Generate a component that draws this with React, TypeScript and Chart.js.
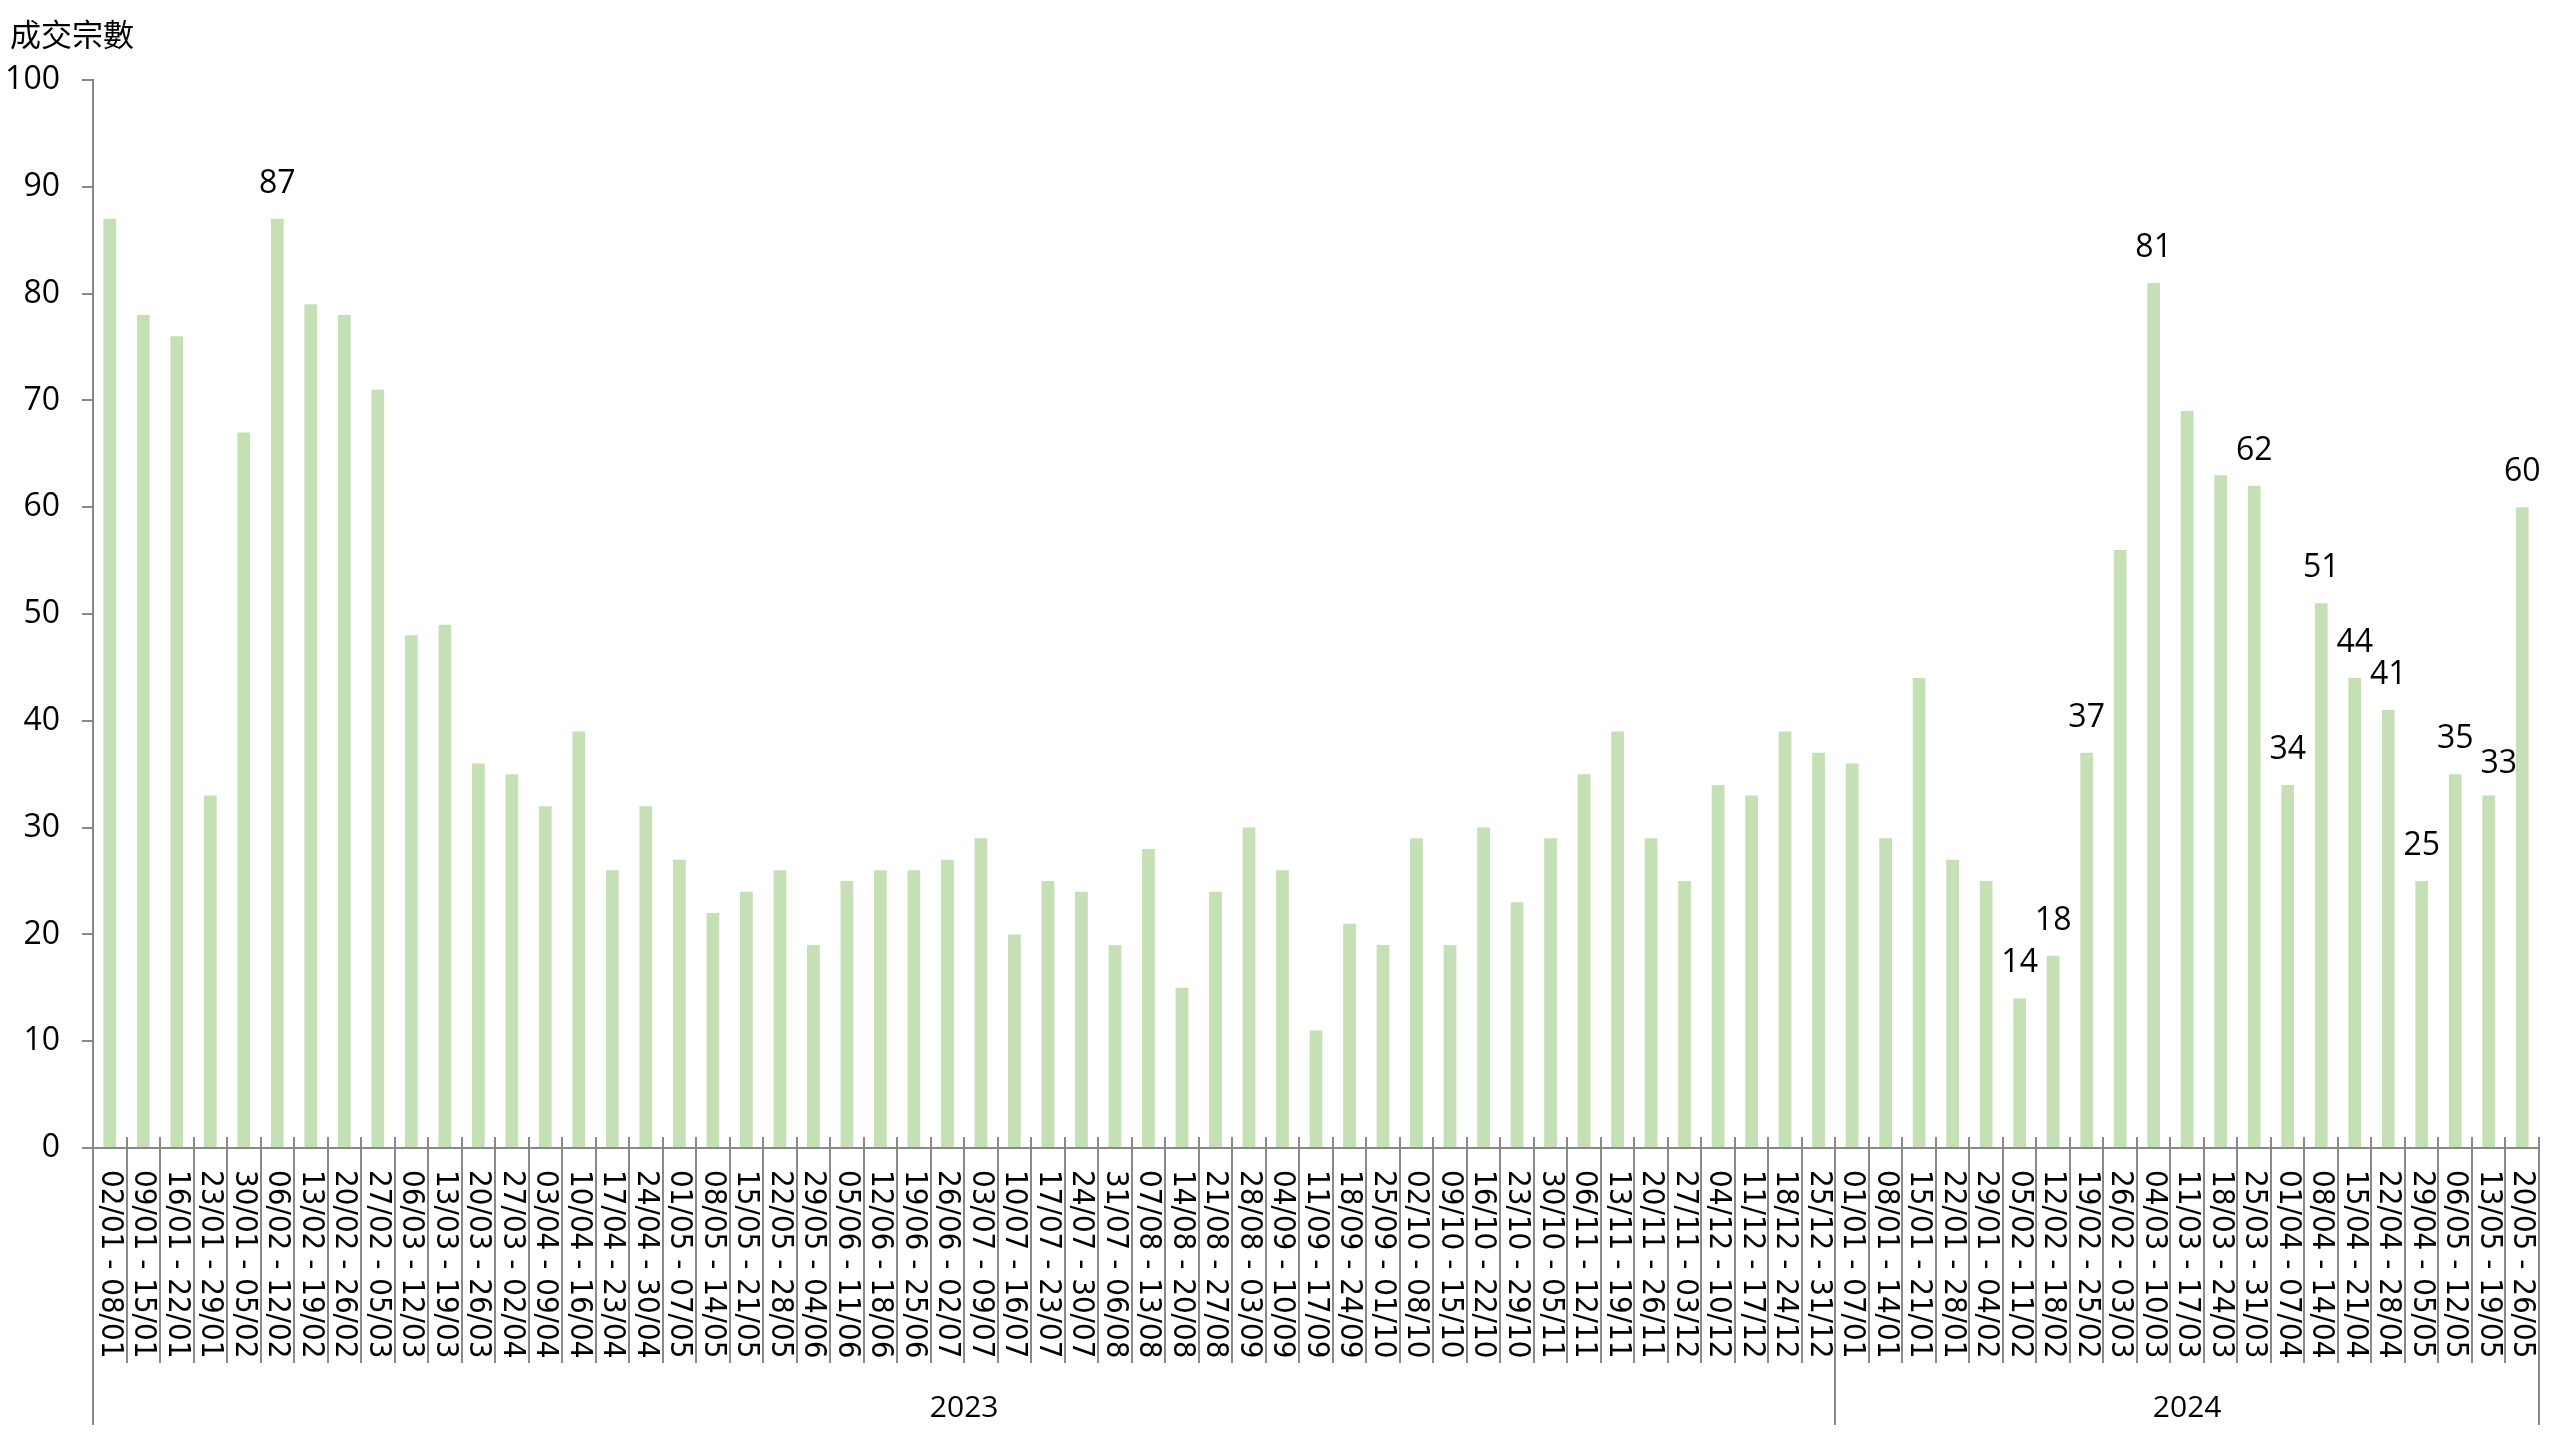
import React, { useEffect, useRef } from "react";
import { Chart, registerables } from "chart.js";

Chart.register(...registerables);

const yAxisTitle = "成交宗數";

const years = ["2023", "2024"];

const weeks2023 = [
  "02/01 - 08/01", "09/01 - 15/01", "16/01 - 22/01", "23/01 - 29/01", "30/01 - 05/02",
  "06/02 - 12/02", "13/02 - 19/02", "20/02 - 26/02", "27/02 - 05/03", "06/03 - 12/03",
  "13/03 - 19/03", "20/03 - 26/03", "27/03 - 02/04", "03/04 - 09/04", "10/04 - 16/04",
  "17/04 - 23/04", "24/04 - 30/04", "01/05 - 07/05", "08/05 - 14/05", "15/05 - 21/05",
  "22/05 - 28/05", "29/05 - 04/06", "05/06 - 11/06", "12/06 - 18/06", "19/06 - 25/06",
  "26/06 - 02/07", "03/07 - 09/07", "10/07 - 16/07", "17/07 - 23/07", "24/07 - 30/07",
  "31/07 - 06/08", "07/08 - 13/08", "14/08 - 20/08", "21/08 - 27/08", "28/08 - 03/09",
  "04/09 - 10/09", "11/09 - 17/09", "18/09 - 24/09", "25/09 - 01/10", "02/10 - 08/10",
  "09/10 - 15/10", "16/10 - 22/10", "23/10 - 29/10", "30/10 - 05/11", "06/11 - 12/11",
  "13/11 - 19/11", "20/11 - 26/11", "27/11 - 03/12", "04/12 - 10/12", "11/12 - 17/12",
  "18/12 - 24/12", "25/12 - 31/12",
];

const values2023 = [
  87, 78, 76, 33, 67, 87, 79, 78, 71, 48,
  49, 36, 35, 32, 39, 26, 32, 27, 22, 24,
  26, 19, 25, 26, 26, 27, 29, 20, 25, 24,
  19, 28, 15, 24, 30, 26, 11, 21, 19, 29,
  19, 30, 23, 29, 35, 39, 29, 25, 34, 33,
  39, 37,
];

const weeks2024 = [
  "01/01 - 07/01", "08/01 - 14/01", "15/01 - 21/01", "22/01 - 28/01", "29/01 - 04/02",
  "05/02 - 11/02", "12/02 - 18/02", "19/02 - 25/02", "26/02 - 03/03", "04/03 - 10/03",
  "11/03 - 17/03", "18/03 - 24/03", "25/03 - 31/03", "01/04 - 07/04", "08/04 - 14/04",
  "15/04 - 21/04", "22/04 - 28/04", "29/04 - 05/05", "06/05 - 12/05", "13/05 - 19/05",
  "20/05 - 26/05",
];

const values2024 = [
  36, 29, 44, 27, 25, 14, 18, 37, 56, 81,
  69, 63, 62, 34, 51, 44, 41, 25, 35, 33,
  60,
];

// weeks whose value is written above the bar
const labelledWeeks2023 = ["06/02 - 12/02"];
const labelledWeeks2024 = [
  "05/02 - 11/02", "12/02 - 18/02", "19/02 - 25/02", "04/03 - 10/03", "25/03 - 31/03",
  "01/04 - 07/04", "08/04 - 14/04", "15/04 - 21/04", "22/04 - 28/04", "29/04 - 05/05",
  "06/05 - 12/05", "13/05 - 19/05", "20/05 - 26/05",
];

const yTicksMin = 0;
const yTicksMax = 100;
const yTicksStep = 10;

const BAR_COLOR = "#C5E0B4";
const AXIS_COLOR = "#898989";
const NUM_FONT = '"Open Sans", "Noto Sans", sans-serif';
const CAT_FONT = '"DejaVu Sans Condensed", "DejaVu Sans", sans-serif';
const CJK_FONT = '"Noto Sans CJK TC", "Noto Sans CJK SC", sans-serif';

// hand-moved data label (as in the original, to avoid overlap)
const LABEL_NUDGE: Record<string, { dx: number; dy: number }> = {
  "13/05 - 19/05": { dx: 10, dy: 3 },
};

const allWeeks = [...weeks2023, ...weeks2024];
const allValues = [...values2023, ...values2024];
const yearGroups = [
  { name: years[0], count: weeks2023.length },
  { name: years[1], count: weeks2024.length },
];
const labelledSet = new Set([...labelledWeeks2023, ...labelledWeeks2024]);

const decorPlugin = {
  id: "decor",
  afterDraw(chart: any) {
    const { ctx, chartArea, scales } = chart;
    const xs = scales.x;
    const n = allWeeks.length;
    const step = xs.getPixelForValue(1) - xs.getPixelForValue(0);
    const base = chartArea.bottom;
    const boundary = (i: number) =>
      i < n ? xs.getPixelForValue(i) - step / 2 : xs.getPixelForValue(n - 1) + step / 2;

    const groupBounds: number[] = [0];
    let acc = 0;
    yearGroups.forEach((g) => {
      acc += g.count;
      groupBounds.push(acc);
    });

    ctx.save();
    // title
    ctx.fillStyle = "#000";
    ctx.font = `31px ${CJK_FONT}`;
    ctx.textAlign = "left";
    ctx.textBaseline = "middle";
    ctx.fillText(yAxisTitle, 10, 34);

    // category boundary lines
    ctx.strokeStyle = AXIS_COLOR;
    ctx.lineWidth = 2;
    for (let i = 0; i <= n; i++) {
      const bx = Math.round(boundary(i));
      const isGroup = groupBounds.includes(i);
      ctx.beginPath();
      ctx.moveTo(bx, base - 11);
      ctx.lineTo(bx, isGroup ? base + 277 : base + 215);
      ctx.stroke();
    }

    // rotated category labels
    ctx.fillStyle = "#000";
    ctx.font = `31px ${CAT_FONT}`;
    ctx.textAlign = "left";
    ctx.textBaseline = "middle";
    for (let i = 0; i < n; i++) {
      const cx = xs.getPixelForValue(i);
      ctx.save();
      ctx.translate(cx, base + 22);
      ctx.rotate(Math.PI / 2);
      ctx.fillText(allWeeks[i], 0, 0);
      ctx.restore();
    }

    // year labels
    ctx.font = `30px ${NUM_FONT}`;
    ctx.textAlign = "center";
    ctx.textBaseline = "alphabetic";
    let start = 0;
    yearGroups.forEach((g) => {
      const l = boundary(start);
      const r = boundary(start + g.count);
      ctx.fillText(g.name, (l + r) / 2, base + 269);
      start += g.count;
    });

    // data labels
    const meta = chart.getDatasetMeta(0);
    ctx.font = `32px ${NUM_FONT}`;
    ctx.textAlign = "center";
    ctx.textBaseline = "alphabetic";
    meta.data.forEach((bar: any, i: number) => {
      const wk = allWeeks[i];
      if (!labelledSet.has(wk)) return;
      const nudge = LABEL_NUDGE[wk] || { dx: 0, dy: 0 };
      ctx.fillText(String(allValues[i]), bar.x + nudge.dx, bar.y - 26 + nudge.dy);
    });
    ctx.restore();
  },
};

export default function App() {
  const canvasRef = useRef<HTMLCanvasElement | null>(null);

  useEffect(() => {
    let chart: Chart | null = null;
    let cancelled = false;
    const make = () => {
      if (cancelled || !canvasRef.current) return;
      chart = new Chart(canvasRef.current, {
        type: "bar",
        data: {
          labels: allWeeks,
          datasets: [
            {
              data: allValues,
              backgroundColor: BAR_COLOR,
              borderWidth: 0,
              barPercentage: 0.38,
              categoryPercentage: 1,
            },
          ],
        },
        options: {
          responsive: false,
          animation: false,
          devicePixelRatio: 1,
          layout: { padding: { top: 80, right: 21, bottom: 292, left: 0 } },
          plugins: {
            legend: { display: false },
            title: { display: false },
            tooltip: { enabled: false },
          },
          scales: {
            x: {
              grid: { display: false, drawTicks: false },
              ticks: { display: false },
              border: { color: AXIS_COLOR, width: 2 },
            },
            y: {
              min: yTicksMin,
              max: yTicksMax,
              ticks: {
                stepSize: yTicksStep,
                color: "#000",
                padding: 22,
                font: { family: NUM_FONT, size: 32 },
              },
              grid: {
                drawOnChartArea: false,
                drawTicks: true,
                tickLength: 11,
                color: AXIS_COLOR,
                lineWidth: 2,
              },
              border: { color: AXIS_COLOR, width: 2 },
              afterFit: (s: any) => {
                s.width = 93;
              },
            },
          },
        },
        plugins: [decorPlugin],
      });
    };
    const fontsReady = (document as any).fonts
      ? Promise.all([
          (document as any).fonts.load('32px "Open Sans"'),
          (document as any).fonts.load('31px "DejaVu Sans Condensed"'),
          (document as any).fonts.load('31px "Noto Sans CJK TC"', "成交宗數"),
        ]).catch(() => null)
      : Promise.resolve(null);
    fontsReady.then(make);
    return () => {
      cancelled = true;
      if (chart) chart.destroy();
    };
  }, []);

  return (
    <div style={{ position: "fixed", left: 0, top: 0, width: 2560, height: 1440, background: "#fff" }}>
      <canvas ref={canvasRef} width={2560} height={1440} style={{ display: "block" }} />
    </div>
  );
}
